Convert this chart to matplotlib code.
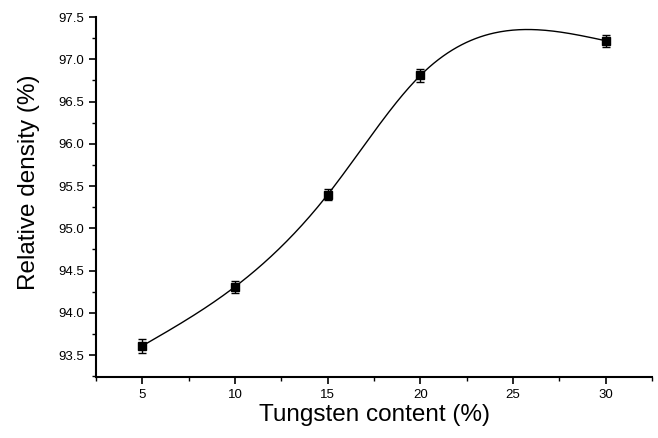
import matplotlib
matplotlib.use("Agg")
import matplotlib.pyplot as plt
import numpy as np

tungsten = [5, 10, 15, 20, 30]
density = [93.61, 94.31, 95.40, 96.81, 97.22]
err = [0.08, 0.07, 0.07, 0.08, 0.07]


def natural_spline(x, y, xs):
    x = np.asarray(x, float)
    y = np.asarray(y, float)
    n = len(x)
    h = np.diff(x)
    A = np.zeros((n, n))
    b = np.zeros(n)
    A[0, 0] = 1
    A[-1, -1] = 1
    for i in range(1, n - 1):
        A[i, i - 1] = h[i - 1]
        A[i, i] = 2 * (h[i - 1] + h[i])
        A[i, i + 1] = h[i]
        b[i] = 6 * ((y[i + 1] - y[i]) / h[i] - (y[i] - y[i - 1]) / h[i - 1])
    M = np.linalg.solve(A, b)
    out = []
    for t in xs:
        i = min(np.searchsorted(x, t) - 1, n - 2)
        i = max(i, 0)
        a = x[i + 1] - t
        c = t - x[i]
        v = (M[i] * a**3 + M[i + 1] * c**3) / (6 * h[i]) \
            + (y[i] / h[i] - M[i] * h[i] / 6) * a \
            + (y[i + 1] / h[i] - M[i + 1] * h[i] / 6) * c
        out.append(v)
    return np.array(out)


plt.rcParams['font.family'] = ['Liberation Sans', 'DejaVu Sans']

fig = plt.figure(figsize=(6.58, 4.38), dpi=100)
ax = fig.add_axes([0.146, 0.139, 0.845, 0.822])

xs = np.linspace(tungsten[0], tungsten[-1], 300)
ax.plot(xs, natural_spline(tungsten, density, xs), color='black', lw=1.0)
ax.errorbar(tungsten, density, yerr=err, fmt='s', color='black', ms=6,
            capsize=3, elinewidth=1, capthick=1)

ax.set_xlim(2.5, 32.5)
ax.set_ylim(93.24, 97.5)
ax.set_xticks([5, 10, 15, 20, 25, 30])
ax.set_xticks(np.arange(2.5, 33, 2.5), minor=True)
ax.set_yticks(np.arange(93.5, 97.6, 0.5))
ax.set_yticks(np.arange(93.25, 97.6, 0.25), minor=True)
ax.yaxis.set_major_formatter(plt.FormatStrFormatter('%.1f'))

for s in ['top', 'right']:
    ax.spines[s].set_visible(False)
ax.spines['left'].set_linewidth(1.5)
ax.spines['bottom'].set_linewidth(1.5)
ax.tick_params(which='major', direction='out', length=5, width=1.2, labelsize=9.5)
ax.tick_params(which='minor', direction='out', length=3, width=1)

ax.set_xlabel('Tungsten content (%)', fontsize=17.5, labelpad=2)
ax.set_ylabel('Relative density (%)', fontsize=17.5)
ax.yaxis.set_label_coords(-0.1, 0.54)

fig.savefig('out.png', dpi=100)
